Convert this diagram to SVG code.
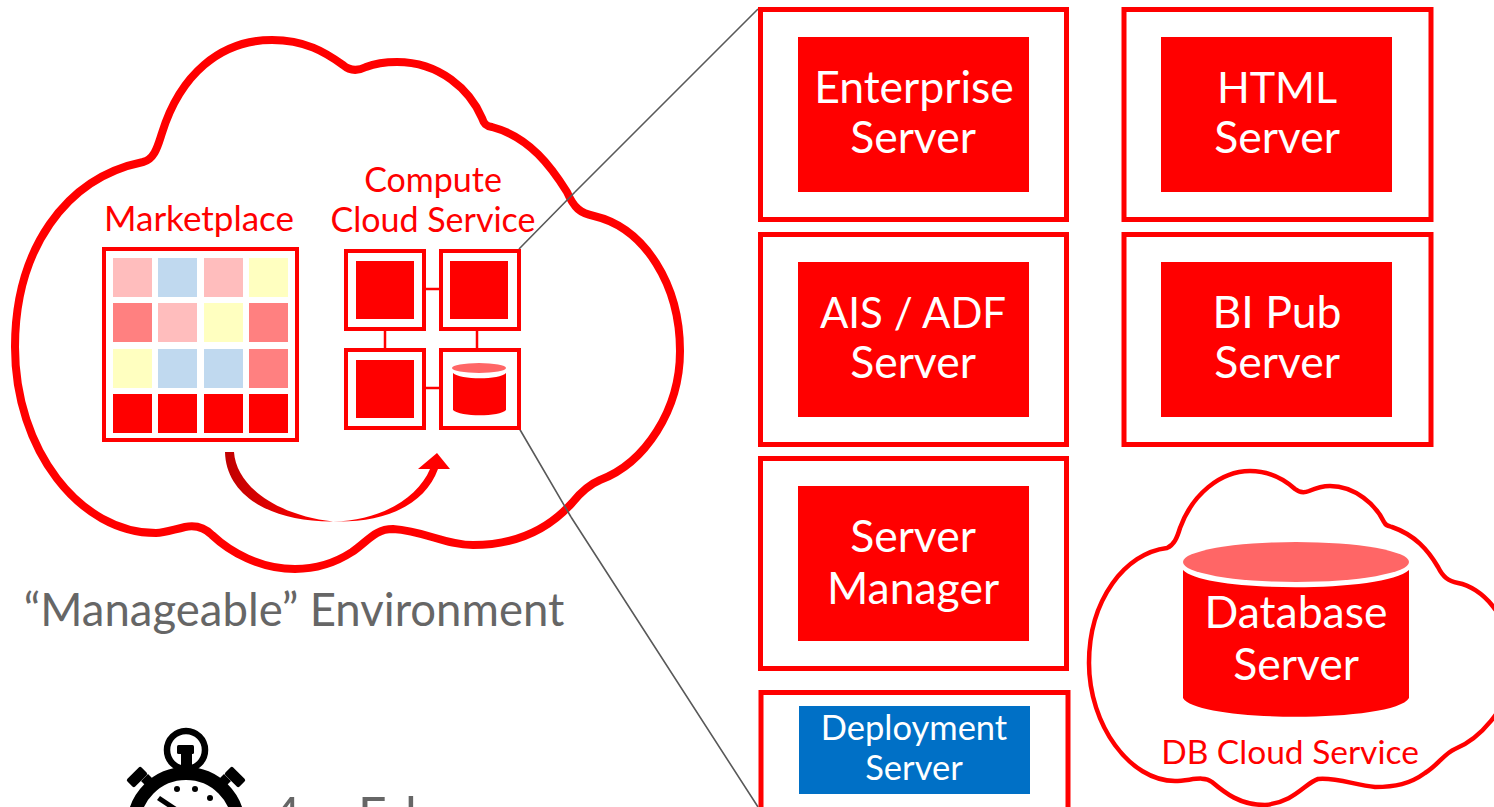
<svg xmlns="http://www.w3.org/2000/svg" width="1494" height="807" viewBox="0 0 1494 807">
<defs><linearGradient id="arc" gradientUnits="userSpaceOnUse" x1="225" y1="0" x2="320" y2="0"><stop offset="0" stop-color="#c00000"/><stop offset="1" stop-color="#f00"/></linearGradient></defs>
<style>
text{font-family:Lato,"Open Sans","Liberation Sans",sans-serif;text-anchor:middle}
.w{fill:#fff;font-size:44.500px}
.r{fill:#f00;font-size:34px}
.box{fill:#fff;stroke:#f00;stroke-width:4}
.s{fill:#f00}
.m{fill:#fff;stroke:#f00;stroke-width:5}
.l{stroke:#f00;stroke-width:2.500;fill:none}
.g{stroke:#595959;stroke-width:1.600;fill:none}
.a{fill:#ffbdbd}.b{fill:#c0d9ef}.c{fill:#ffffc0}.d{fill:#ff8080}
.t{fill:#666;font-size:50px;text-anchor:start}
</style>
<g id="connectors">
<path class="g" d="M575 192L758 9M571 517L758 807"/>
</g>
<g id="main-cloud">
<path d="M143 162C155 159 158 145 162 133C180 75 220 40 272 40C305 40 325 52 343 65C350 71 358 71 366 67C376 63 386 62 397 62C440 62 470 90 482 118C484 124 486 126 492 127C530 137 552 168 567 192C574 208 580 213 594 216C645 228 680 285 680 351C680 410 645 463 600 480C588 485 580 493 572 503C545 533 510 545 473 545C445 545 425 531 393 529C375 529 368 541 352 552C335 563 315 569 295 569C260 569 230 552 212 535C204 527 195 525 185 527C172 530 165 533 156 533C80 533 15 450 15 347C15 250 65 178 143 162Z" fill="#fff" stroke="#f00" stroke-width="8"/>
</g>
<g id="guide-lines"><path class="g" d="M519 249L575 192M519 428L571 517"/></g>
<g id="marketplace">
<text class="r" x="199" y="231" style="font-size:35px">Marketplace</text>
<rect x="104" y="249" width="193" height="191" class="box"/>
<rect class="a" x="113" y="258" width="39" height="39"/><rect class="b" x="158" y="258" width="39" height="39"/><rect class="a" x="204" y="258" width="39" height="39"/><rect class="c" x="249" y="258" width="39" height="39"/>
<rect class="d" x="113" y="303" width="39" height="39"/><rect class="a" x="158" y="303" width="39" height="39"/><rect class="c" x="204" y="303" width="39" height="39"/><rect class="d" x="249" y="303" width="39" height="39"/>
<rect class="c" x="113" y="349" width="39" height="39"/><rect class="b" x="158" y="349" width="39" height="39"/><rect class="b" x="204" y="349" width="39" height="39"/><rect class="d" x="249" y="349" width="39" height="39"/>
<rect class="s" x="113" y="394" width="39" height="39"/><rect class="s" x="158" y="394" width="39" height="39"/><rect class="s" x="204" y="394" width="39" height="39"/><rect class="s" x="249" y="394" width="39" height="39"/>
</g>
<g id="compute">
<text class="r" x="433" y="192">Compute</text>
<text class="r" x="433" y="232">Cloud Service</text>
<path class="l" d="M425 289H441M425 388H441M385 329V350M477 329V350"/>
<rect class="box" x="346" y="251" width="78" height="78"/><rect class="s" x="356" y="261" width="58" height="58"/>
<rect class="box" x="441" y="251" width="78" height="78"/><rect class="s" x="450" y="261" width="58" height="58"/>
<rect class="box" x="346" y="350" width="78" height="78"/><rect class="s" x="356" y="360" width="58" height="58"/>
<rect class="box" x="441" y="350" width="78" height="78"/>
<path class="s" d="M453 373C460 380 500 380 506 373V410C500 417 460 417 453 410Z"/>
<ellipse cx="479" cy="368" rx="27" ry="5" fill="#ff6666"/>
</g>
<g id="migrate-arrow">
<path d="M225 452H234C236 485 275 515 333 521.500C270 522 226 495 225 452Z" fill="url(#arc)"/>
<path class="s" d="M333 521.500C380 521 418 498 430 469H418L437 453L450 469H438C425 505 385 523 333 521.500Z"/>
</g>
<text x="294" y="626" fill="#666" style="font-size:45.500px">“Manageable” Environment</text>
<g id="enterprise"><rect class="m" x="760.500" y="9.500" width="306" height="210"/><rect class="s" x="798" y="37" width="231" height="155"/><text class="w" x="914" y="103">Enterprise</text><text class="w" x="913" y="153">Server</text></g>
<g id="html"><rect class="m" x="1124" y="9.500" width="307" height="210"/><rect class="s" x="1161" y="37" width="231" height="155"/><text class="w" x="1277" y="103" style="font-size:43px">HTML</text><text class="w" x="1277" y="153">Server</text></g>
<g id="ais"><rect class="m" x="760.500" y="234.500" width="306" height="210"/><rect class="s" x="798" y="262" width="231" height="155"/><text class="w" x="913" y="328" style="font-size:42px">AIS / ADF</text><text class="w" x="913" y="378">Server</text></g>
<g id="bipub"><rect class="m" x="1124" y="234.500" width="307" height="210"/><rect class="s" x="1161" y="262" width="231" height="155"/><text class="w" x="1277" y="328">BI Pub</text><text class="w" x="1277" y="378">Server</text></g>
<g id="manager"><rect class="m" x="760.500" y="458.500" width="306" height="210"/><rect class="s" x="798" y="486" width="231" height="155"/><text class="w" x="913" y="552">Server</text><text class="w" x="913" y="604">Manager</text></g>
<g id="deployment"><rect class="m" x="761" y="692.500" width="307" height="120"/><rect x="799" y="706" width="231" height="88" fill="#0070c6"/><text x="914" y="740" fill="#fff" style="font-size:34.500px">Deployment</text><text x="914" y="780" fill="#fff" style="font-size:34.500px">Server</text></g>
<g id="db-cloud">
<path d="M1167 548C1174 545 1177 538 1180 528C1192 495 1220 471 1250 471C1270 471 1285 480 1295 489C1300 493 1304 493 1309 491C1316 488 1322 486 1330 486C1355 486 1376 505 1384 522C1386 526 1388 526 1392 527C1415 535 1428 550 1438 567C1443 577 1448 581 1458 583C1480 587 1512 615 1512 665C1512 710 1475 741 1455 749C1445 753 1438 765 1425 773C1410 784 1395 787 1375 787C1355 785 1335 777 1318 779C1305 783 1295 802 1265 805C1240 805 1225 793 1212 782C1203 775 1190 781 1175 781C1130 781 1089 725 1089 663C1089 600 1125 553 1167 548Z" fill="#fff" stroke="#f00" stroke-width="4.500"/>
<path class="s" d="M1183 570C1205 593 1385 593 1409 570V698C1395 723 1197 723 1183 698Z"/>
<ellipse cx="1296" cy="562" rx="113" ry="20" fill="#ff6666"/>
<text class="w" x="1296" y="628">Database</text><text class="w" x="1296" y="680">Server</text>
<text class="r" x="1290" y="764" style="font-size:33.500px">DB Cloud Service</text>
</g>
<g id="stopwatch">
<circle cx="186" cy="750" r="19" fill="none" stroke="#000" stroke-width="6.500"/>
<rect x="177" y="745" width="17" height="9" rx="1.500"/><rect x="181" y="752" width="11" height="18"/>
<rect x="-10" y="-5.500" width="20" height="11" rx="2" transform="translate(137 777) rotate(-45)"/>
<rect x="-10" y="-5.500" width="20" height="11" rx="2" transform="translate(235 777) rotate(45)"/>
<path d="M141 781L148 774L156 782L149 789ZM231 781L224 774L216 782L223 789Z"/>
<circle cx="186" cy="826" r="52.500" fill="#fff" stroke="#000" stroke-width="13"/>
<circle cx="177" cy="789" r="3"/><circle cx="195" cy="789" r="3"/><circle cx="210" cy="798" r="3"/>
<path d="M157 800L160 796L178 808L175 812Z"/>
</g>
<g id="caption-cut">
<text class="t" x="272" y="833">4</text>
<text class="t" x="358" y="833">E</text>
<text class="t" x="405" y="833">l</text>
</g>
</svg>
